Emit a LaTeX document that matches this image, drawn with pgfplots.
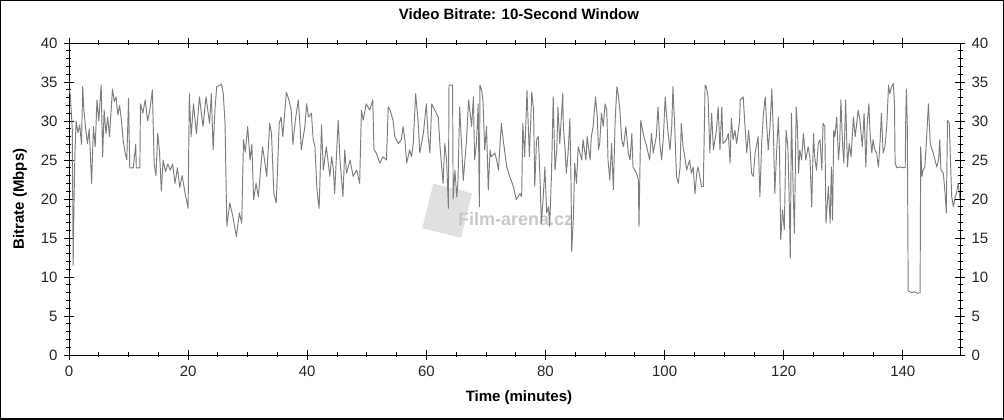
\documentclass[border=0pt]{standalone}
\usepackage{pgfplots}
\pgfplotsset{compat=1.18}
\usepackage{fontspec}
\setmainfont{Liberation Sans}
\definecolor{linegray}{RGB}{125,125,125}
\definecolor{wm}{RGB}{200,200,200}
\definecolor{wmlogo}{RGB}{224,224,224}
\pgfplotstableread{
t v
0 34.0
0.2 33.5
0.4 31
0.55 29
0.7 11.5
0.85 20
1.0 26
1.2 30.0
1.5 28.5
1.8 29.5
2.1 27
2.3 34.4
2.5 31.4
2.8 29
3.1 27.1
3.4 29
3.8 22.0
4.1 29.3
4.4 26.7
4.7 32.7
5.0 30
5.4 34.6
5.65 25.4
5.9 31.4
6.2 28.4
6.5 30.5
6.8 28
7.3 34.1
7.6 32.5
7.9 33.1
8.2 30.8
8.5 32
8.8 30.1
9.1 27.5
9.4 26
9.7 25
10.0 32.9
10.2 24.0
10.8 24.0
11.2 27
11.3 24.0
11.9 24.0
12.0 32.2
12.4 31
12.8 32.7
13.2 30
13.6 31.5
14.0 34.0
14.3 24.5
14.6 23
14.9 28.4
15.2 26
15.5 21.0
15.8 25
16.2 23.5
16.6 24.5
17.0 23.7
17.4 24.5
17.8 22
18.2 24
18.6 21.5
19.0 23
19.5 20.7
20.0 18.8
20.2 33.5
20.5 28
20.9 32.2
21.4 28.4
21.9 33.1
22.5 29.3
23.0 33.1
23.6 29.7
23.9 33.5
24.2 26.3
24.5 31.4
24.8 34.4
25.6 34.7
25.9 33.5
26.2 29.7
26.5 16.5
27.0 19.5
27.5 17.8
28.1 15.2
28.6 18.2
29.0 16.9
29.3 27.6
29.6 26
30.0 29.3
30.4 25
30.7 27
31.0 19.9
31.4 22
31.8 20.3
32.2 24
32.5 26.7
32.9 24.6
33.2 22.9
33.7 29.7
34.0 28.4
34.4 20.7
34.8 19.5
35.3 29.7
35.6 30.5
35.9 28
36.5 33.7
37.0 32.5
37.3 31.4
37.6 27
38.0 30.1
38.5 32.7
38.8 29.3
39.0 26.3
39.6 29.3
39.9 32.2
40.2 30.5
40.7 31
41.0 27.6
41.3 26.7
41.6 21.6
41.8 19.9
42.0 18.8
42.4 29.5
42.7 23.7
43.2 26.7
43.8 22.9
44.1 25.4
44.4 23.7
44.6 20.7
45.2 30.1
45.5 25
46.0 20.3
46.3 26.3
46.6 23.3
47.2 25
47.7 22.9
48.3 23.7
48.8 22
49.1 31.4
49.4 30.1
49.9 32.2
50.5 31.4
51.0 32.7
51.2 26.3
51.6 25.9
52.2 24.6
52.7 25.4
53.3 25
53.6 31.8
53.9 31.4
54.4 30.1
54.7 28
55.3 27.1
55.8 27.6
56.1 29.3
56.4 27.6
56.7 24.6
57.2 26.3
57.5 25.4
57.8 27.1
58.2 33.5
58.6 30.1
58.9 25.9
59.5 28.4
60.0 32.2
60.3 28
60.6 25.9
60.9 32.2
61.4 31.4
62.0 30.5
62.3 26.7
62.8 22
63.1 27.1
63.4 25
63.7 18.8
63.8 34.6
64.4 34.6
64.5 20
64.8 23.7
65.1 20.3
65.3 22
65.6 31.8
65.9 27.1
66.2 22.4
66.7 27.1
67.1 32.7
67.6 29.3
67.9 33.1
68.1 25
68.4 27.1
68.7 32.2
68.9 19
69.0 34.6
69.3 33.9
69.5 32.7
69.8 26.3
70.1 29.3
70.4 21.2
70.7 26.3
70.9 25.4
71.5 25.9
71.8 25
72.1 23.7
72.6 29.7
72.9 27.6
73.5 24.1
74.0 22.9
74.6 21.6
75.1 19.9
75.7 20.7
76.0 20.3
76.2 29.7
76.5 25.4
76.9 33.9
77.3 25.4
77.7 33.7
78.0 31.4
78.2 21.6
78.5 27.6
78.8 28
79.1 22.4
79.3 16.9
79.6 19.9
79.9 24.1
80.2 18.2
80.5 19
80.7 16.5
81.0 22.9
81.3 33.1
81.6 23.7
81.9 26.3
82.1 31.8
82.4 27.1
82.9 33.5
83.0 29.3
83.3 26.3
83.5 23.3
83.8 25.9
84.1 30.3
84.3 21.6
84.4 13.3
84.7 17.8
84.9 24.6
85.2 22
85.5 26.7
86.1 25
86.3 27.6
86.8 25
87.0 28
87.5 25
87.7 28
88.0 29.3
88.4 33.1
88.7 30.5
88.9 26.3
89.1 27.1
89.4 31
89.7 29.3
90.0 32.2
90.3 31.4
90.5 25
90.8 22.4
91.1 27.1
91.4 21.2
91.7 30.1
92.0 34.4
92.2 33.5
92.5 31.4
92.8 27.6
93.1 26.7
93.5 29.3
93.9 25.9
94.2 25
94.5 28.4
94.7 24.1
95.3 23.3
95.6 22.4
95.7 16.5
96.0 30.1
96.4 28.4
97.0 26.7
97.5 25
97.8 28.4
98.1 25.9
98.6 28
98.9 31.8
99.2 27.1
99.5 25
99.8 28
100.1 33.1
100.3 31
100.6 28.4
100.9 26.3
101.2 29.3
101.4 34.4
101.7 29.3
102.0 22.9
102.3 22
102.6 24.1
102.8 29.7
103.1 26.7
103.4 25.4
103.7 23.7
104.2 25
104.5 23.3
104.8 24.1
105.1 20.7
105.4 23.3
105.6 24.1
105.9 22.9
106.2 21.6
106.5 21.6
106.8 34.6
107.0 34.4
107.3 33.1
107.6 25.9
107.9 31
108.2 26.3
108.7 28.8
109.0 31.8
109.3 26.3
109.6 31.8
109.8 27.1
110.4 27.6
110.7 28.4
111.0 24.6
111.2 30.3
111.5 27.6
111.8 28.8
112.1 27.1
112.6 30.1
112.7 32.7
113.2 33.1
113.5 29.3
113.8 25.9
114.1 28.8
114.3 27.1
114.6 23.3
114.9 22.9
115.2 25.9
115.5 27.1
115.7 28
116.0 20.3
116.3 27.1
116.6 31
116.9 33.1
117.1 30.1
117.4 26.3
117.7 29.3
118.0 34.1
118.3 27.6
118.5 20.7
118.8 25.9
119.1 30.5
119.3 25.9
119.5 14.8
119.8 18.6
120.1 16.1
120.4 28.8
120.7 26.7
120.9 20.7
121.1 12.4
121.3 31
121.6 20.7
121.8 15.6
122.1 31.8
122.3 29.3
122.5 23.3
122.7 26.3
123.0 25
123.3 28.4
123.7 25
124.1 26.7
124.4 25.4
124.7 19
125.0 28.4
125.2 25.4
125.5 23.7
125.8 27.1
126.1 27.6
126.4 23.7
126.6 29.7
126.9 29.3
127.1 16.9
127.5 21.6
127.8 16.9
128.0 24.1
128.2 17.3
128.4 28.8
128.6 28
128.9 30.5
129.2 25
129.4 27.1
129.6 32.7
129.9 26.7
130.1 24.6
130.4 32.7
130.7 24.1
131.0 27.1
131.3 25.4
131.7 30.5
132.0 28
132.2 29.3
132.5 31.4
132.8 30.1
133.2 26.7
133.5 31
133.8 24.1
134.0 29.3
134.3 32.2
134.5 28.4
134.8 25.9
135.0 27.6
135.3 26.3
135.6 25.9
135.9 24.1
136.2 27.6
136.4 31
136.7 25.9
137.0 26.7
137.3 29.3
137.6 34.6
137.8 33.5
138.1 34.4
138.4 34.8
138.6 32.2
138.7 24.6
139.0 24.0
139.5 24.1
140.4 24.0
140.5 31
140.6 34.1
140.75 29.3
140.9 8.2
141.5 8.0
142.0 8.1
142.5 7.9
142.9 8.0
143.0 26.7
143.2 22.9
143.4 23.7
143.7 24.1
144.0 28
144.3 32.2
144.6 27.1
145.1 25.9
145.4 25
145.7 24.1
146.0 25
146.2 27.6
146.4 23.7
146.8 23.3
147.1 20.7
147.3 18.2
147.5 30.1
147.8 29.7
148.0 25
148.2 20.3
148.5 19
148.8 20.3
149.0 20.7
149.3 22
149.6 20
}\bitrate
\begin{document}
\begin{tikzpicture}[font=\fontsize{15}{17}\selectfont]
\useasboundingbox (-69pt,-65pt) rectangle (935pt,355pt);
\draw[line width=1.5pt] (-68.25pt,-64.25pt) rectangle (934.25pt,354.25pt);
\begin{axis}[
  at={(0pt,0pt)}, anchor=south west,
  scale only axis, width=891pt, height=312pt,
  xmin=0, xmax=149.6, ymin=0, ymax=40,
  xtick={0,20,...,140}, ytick={0,5,...,40},
  minor x tick num=3, minor y tick num=4,
  tick align=center,
  major tick length=10pt, minor tick length=5pt,
  every tick/.style={black, line width=0.8pt},
  axis line style={line width=0.9pt},
  xtick pos=both, ytick pos=both,
  yticklabel pos=left,
  /pgf/number format/assume math mode=true,
  ticklabel style={font=\fontsize{15}{17}\selectfont, text=black!85},
  xticklabel style={yshift=-2pt},
  yticklabel style={xshift=-3pt},
  title={\bfseries Video Bitrate: 10-Second Window},
  title style={at={(axis description cs:0.505,1.074)}, anchor=center, font=\fontsize{15}{17}\selectfont},
  xlabel={\bfseries Time (minutes)},
  xlabel style={at={(axis description cs:0.505,-0.138)}, anchor=center, font=\fontsize{15}{17}\selectfont},
  ylabel={\bfseries Bitrate (Mbps)},
  ylabel style={at={(axis description cs:-0.055,0.5)}, anchor=center, rotate=0, font=\fontsize{15}{17}\selectfont},
  clip=true,
]
\node[fill=wmlogo, minimum width=40pt, minimum height=46pt, rotate=-14] at (axis cs:63.5,18.5) {};
\node[text=wm, font=\bfseries\fontsize{18}{20}\selectfont] at (axis cs:75,17.4) {Film-arena.cz};
\addplot[linegray, line width=0.95pt, line join=round] table[x=t,y=v] {\bitrate};
\end{axis}
\begin{axis}[
  at={(0pt,0pt)}, anchor=south west,
  scale only axis, width=891pt, height=312pt,
  xmin=0, xmax=149.6, ymin=0, ymax=40,
  ytick={0,5,...,40},
  minor y tick num=4,
  tick align=center,
  major tick length=10pt, minor tick length=5pt,
  every tick/.style={black, line width=0.8pt},
  axis line style={line width=0.9pt},
  axis y line*=right, axis x line=none,
  /pgf/number format/assume math mode=true,
  ticklabel style={font=\fontsize{15}{17}\selectfont, text=black!85},
  yticklabel style={xshift=3pt},
]
\end{axis}
\end{tikzpicture}
\end{document}
